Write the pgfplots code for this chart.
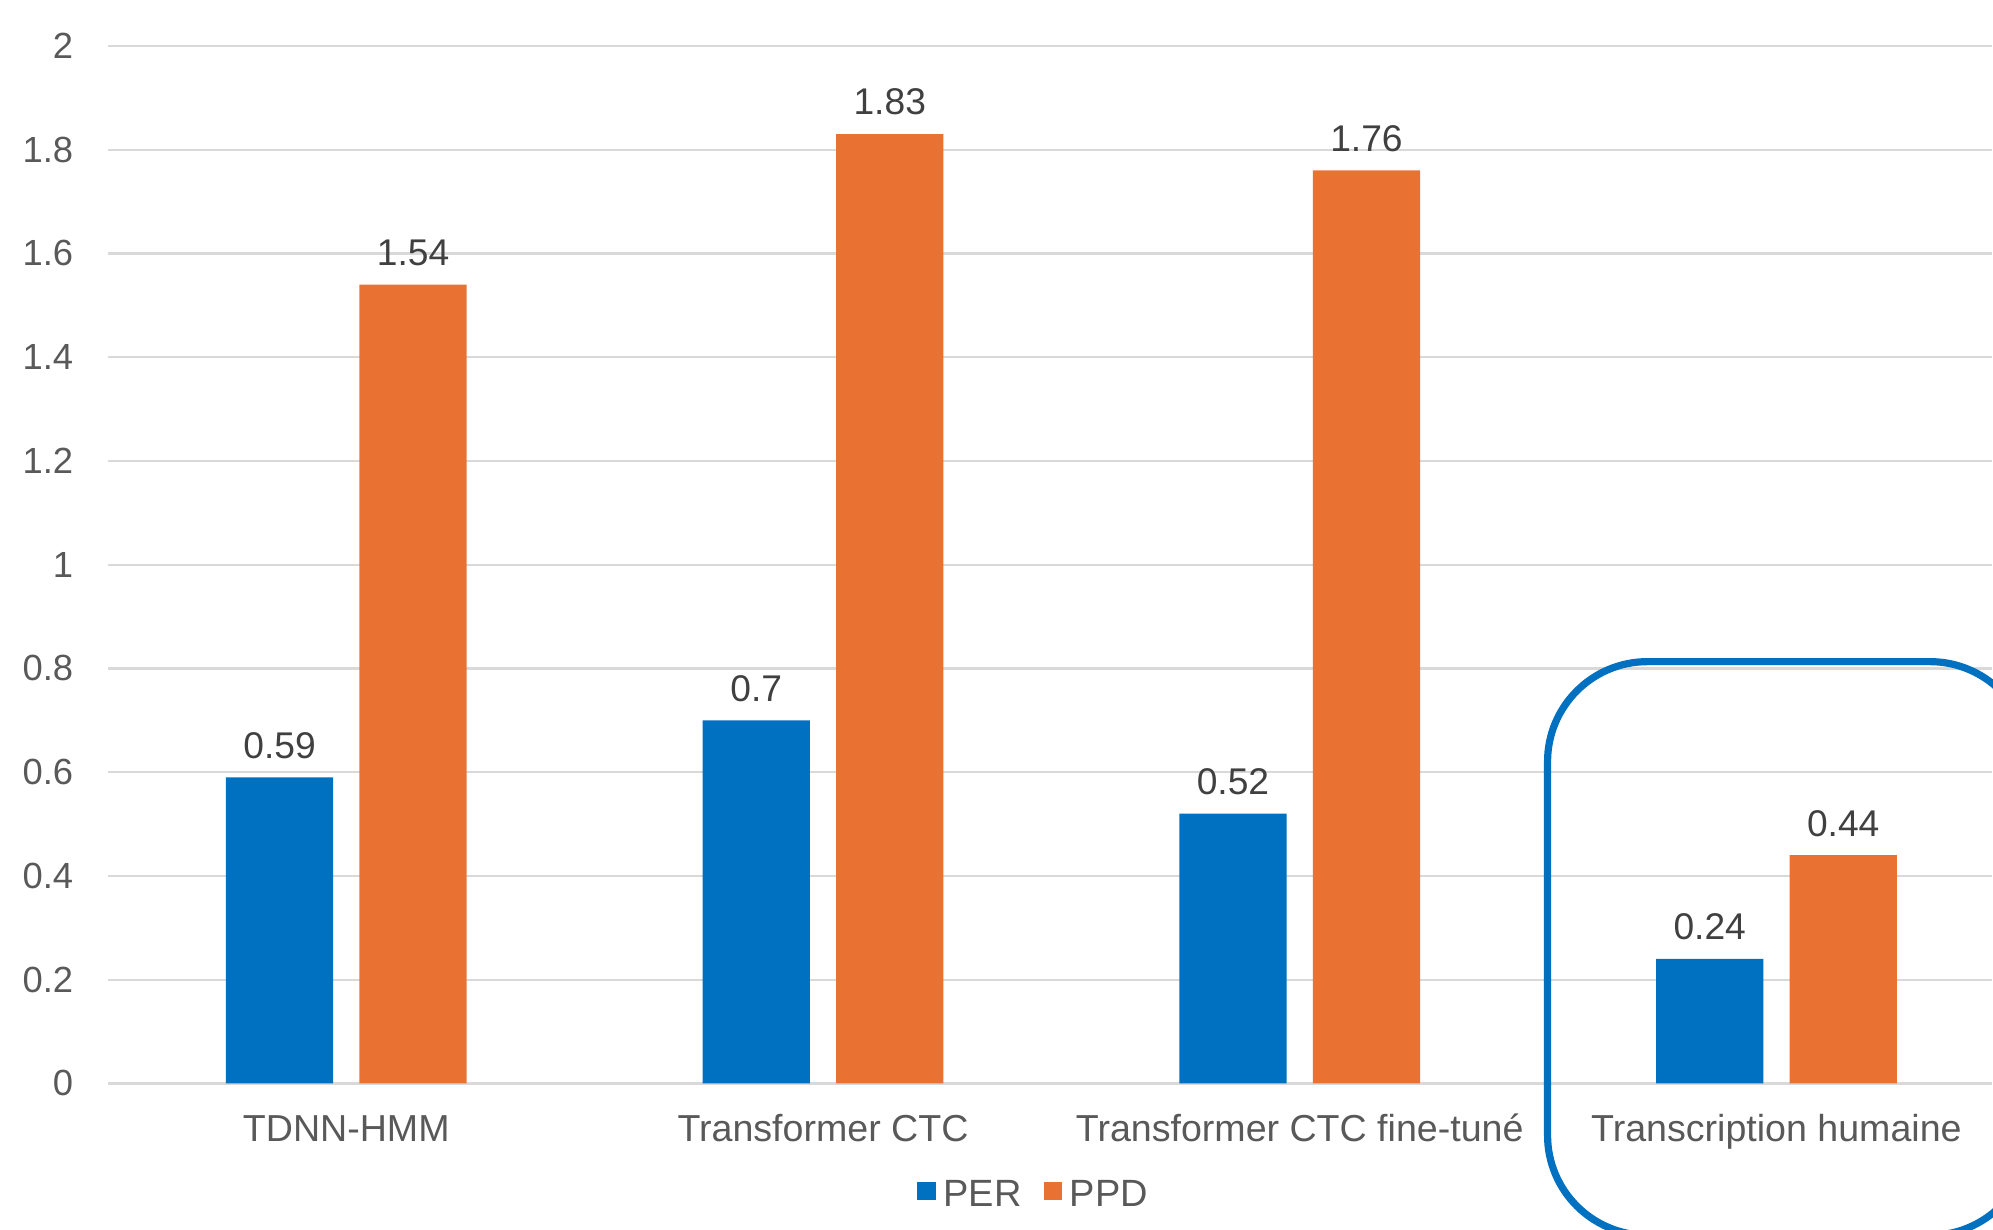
\documentclass[border=0pt]{standalone}
\usepackage{fontspec}
\setmainfont{Liberation Sans}
\usepackage{pgfplots}
\pgfplotsset{compat=1.18}
\definecolor{perblue}{HTML}{0070C0}
\definecolor{ppdorange}{HTML}{E97132}
\definecolor{gridgray}{HTML}{D9D9D9}
\definecolor{ticktext}{HTML}{595959}
\definecolor{labeltext}{HTML}{404040}
\begin{document}
\begin{tikzpicture}
\path (0pt,0pt) rectangle (498.25pt,307.5pt);
\begin{axis}[
  at={(27pt,36.5pt)}, anchor=south west,
  scale only axis, width=471.25pt, height=259.5pt,
  xmin=-0.5, xmax=3.452, ymin=0, ymax=2,
  clip=false,
  ybar, bar width=0.225,
  axis line style={draw=none},
  tick style={draw=none}, major tick length=0pt,
  ymajorgrids, grid style={gridgray, line width=0.55pt},
  ytick={0,0.2,0.4,0.6,0.8,1,1.2,1.4,1.6,1.8,2},
  yticklabels={0,0.2,0.4,0.6,0.8,1,1.2,1.4,1.6,1.8,2},
  xtick={0,1,2,3},
  xticklabels={TDNN-HMM, Transformer CTC, Transformer CTC fine-tuné, Transcription humaine},
  yticklabel style={font=\fontsize{9.1}{11}\selectfont, text=ticktext, anchor=east, inner sep=0pt, xshift=-8.5pt},
  xticklabel style={font=\fontsize{9.4}{11}\selectfont, text=ticktext, anchor=north, inner sep=0pt, yshift=-7.75pt, text height=6.7pt},
  /pgf/number format/assume math mode=true,
  nodes near coords,
  every node near coord/.append style={font=\fontsize{9.3}{11}\selectfont, text=labeltext, anchor=south, inner sep=0pt, yshift=4.5pt},
  legend style={at={(axis cs:1.448,-0.218)}, anchor=center, draw=none, fill=none,
    legend columns=2, font=\fontsize{9.5}{11}\selectfont, text=ticktext,
    inner sep=0pt,
    /tikz/every even column/.append style={column sep=3.5pt}},
]
\addplot[fill=perblue, draw=none, bar shift=-0.14,
  legend image code/.code={\fill[perblue] (0pt,-1.0pt) rectangle (4.6pt,3.6pt);}]
  coordinates {(0,0.59) (1,0.7) (2,0.52) (3,0.24)};
\addlegendentry{PER}
\addplot[fill=ppdorange, draw=none, bar shift=0.14,
  legend image code/.code={\fill[ppdorange] (0pt,-1.0pt) rectangle (4.6pt,3.6pt);}]
  coordinates {(0,1.54) (1,1.83) (2,1.76) (3,0.44)};
\addlegendentry{PPD}
\end{axis}
\draw[overlay, perblue, line width=1.8pt, rounded corners=25pt] (387.1pt,-1.5pt) rectangle (507.75pt,142pt);
\end{tikzpicture}
\end{document}
